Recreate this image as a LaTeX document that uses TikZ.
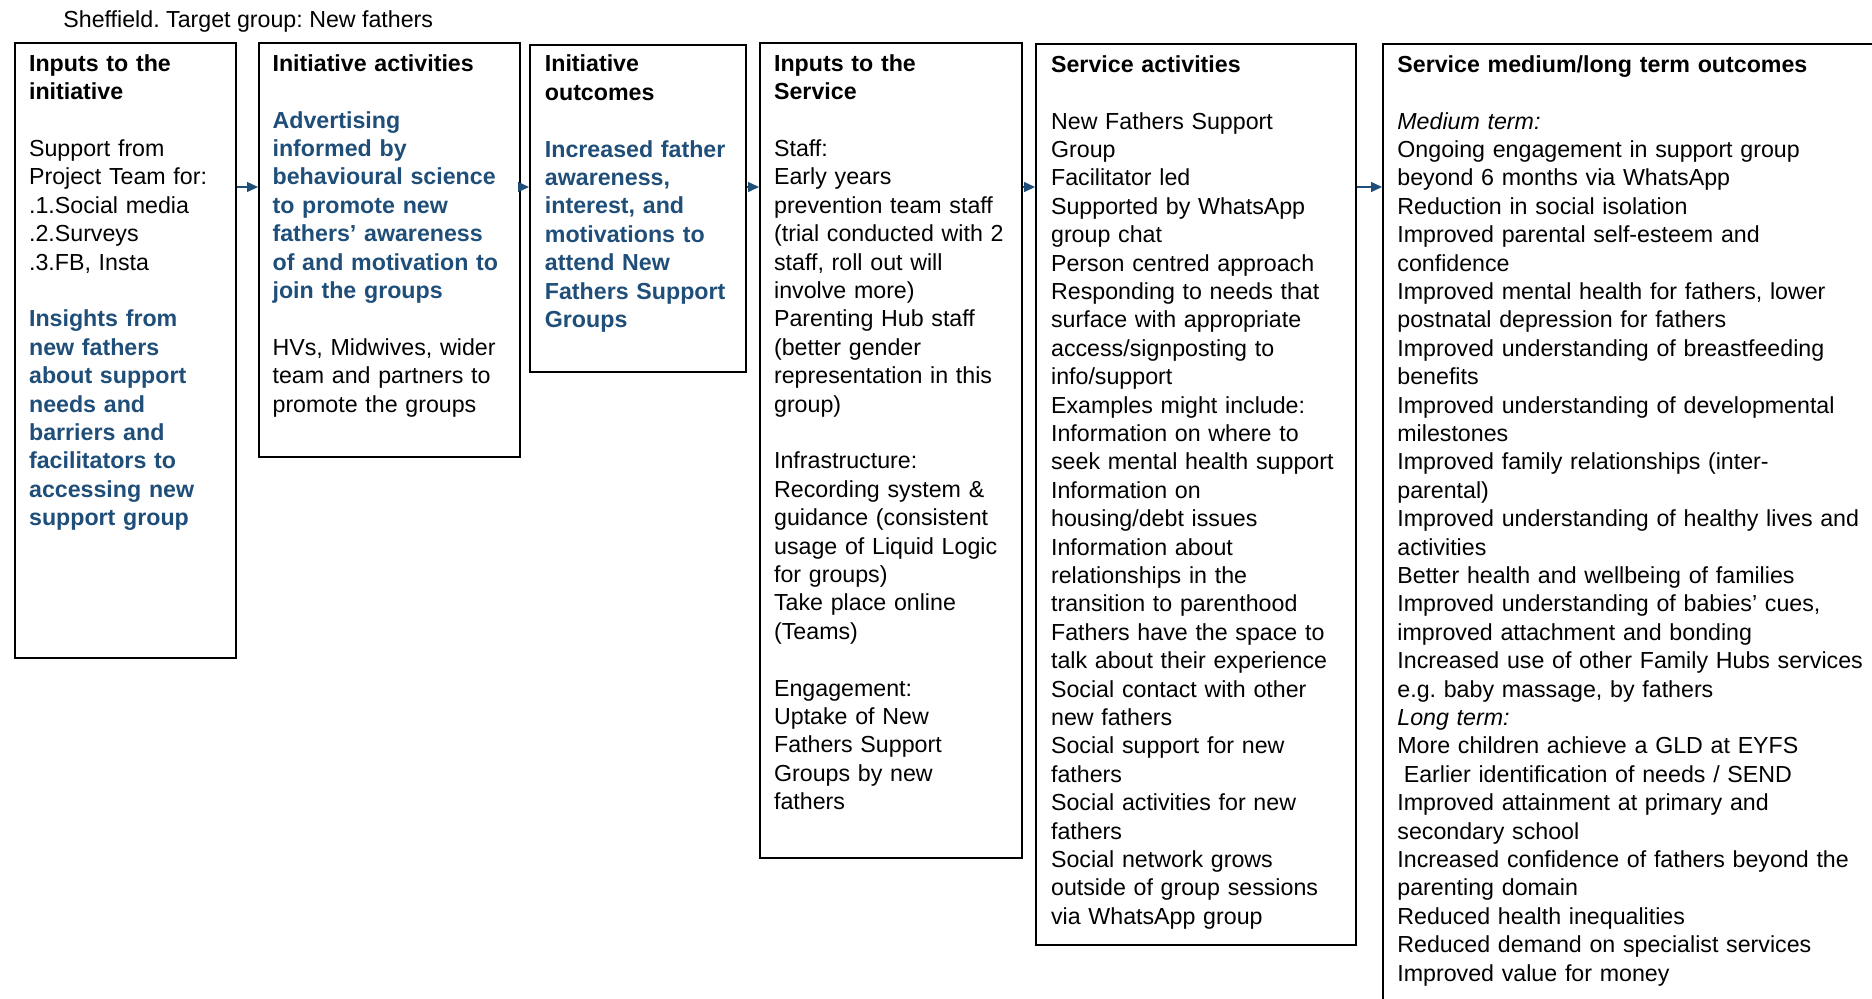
\documentclass[tikz,border=0pt]{standalone}
\usepackage{fontspec}
\setmainfont{Liberation Sans}
\usetikzlibrary{arrows.meta,calc}
\definecolor{accent}{RGB}{31,78,121}
\definecolor{arrowc}{RGB}{31,78,121}
\frenchspacing
\begin{document}
\begin{tikzpicture}[x=0.5pt,y=-0.5pt,
  box/.style={draw=black, line width=1.1pt, rectangle, inner sep=0pt, anchor=north west},
  txt/.style={anchor=north west, inner sep=0pt, align=left, text width=300pt,
    font=\fontsize{11.6pt}{14.2pt}\selectfont\frenchspacing},
  arr/.style={draw=arrowc, line width=0.7pt, -{Triangle[length=5.5pt,width=5pt]}}]
\path[use as bounding box] (0,0) rectangle (1872,998);
\clip (0,0) rectangle (1872,998);

\node[anchor=base west, inner sep=0pt, font=\fontsize{11.6pt}{14.2pt}\selectfont\frenchspacing] (title) at (63,27) {Sheffield. Target group: New fathers};

\node[box, minimum width=110.5pt, minimum height=307.5pt] (b1) at (14,42) {};
\node[box, minimum width=130.5pt, minimum height=207pt] (b2) at (258,42) {};
\node[box, minimum width=108pt, minimum height=163.5pt] (b3) at (529,44) {};
\node[box, minimum width=131pt, minimum height=407.5pt] (b4) at (759,42) {};
\node[box, minimum width=160pt, minimum height=450.5pt] (b5) at (1035,43) {};
\node[box, minimum width=270pt, minimum height=500pt] (b6) at (1382,43) {};

\node[txt] (t1) at ($(b1.north west)+(14.7,9.1)$) {\strut\bfseries Inputs to the\\initiative\\[14.2pt]
\mdseries Support from\\Project Team for:\\.1.Social media\\.2.Surveys\\.3.FB, Insta\\[14.2pt]
\color{accent}\bfseries Insights from\\new fathers\\about support\\needs and\\barriers and\\facilitators to\\accessing new\\support group};

\node[txt] (t2) at ($(b2.north west)+(14.2,9.1)$) {\strut\bfseries Initiative activities\\[14.2pt]
\color{accent}Advertising\\informed by\\behavioural science\\to promote new\\fathers’ awareness\\of and motivation to\\join the groups\\[14.2pt]
\color{black}\mdseries HVs, Midwives, wider\\team and partners to\\promote the groups};

\node[txt] (t3) at ($(b3.north west)+(15.5,7.6)$) {\strut\bfseries Initiative\\outcomes\\[14.2pt]
\color{accent}Increased father\\awareness,\\interest, and\\motivations to\\attend New\\Fathers Support\\Groups};

\node[txt] (t4) at ($(b4.north west)+(14.7,9.1)$) {\strut\bfseries Inputs to the\\Service\\[14.2pt]
\mdseries Staff:\\Early years\\prevention team staff\\(trial conducted with 2\\staff, roll out will\\involve more)\\Parenting Hub staff\\(better gender\\representation in this\\group)\\[14.2pt]
Infrastructure:\\Recording system \&\\guidance (consistent\\usage of Liquid Logic\\for groups)\\Take place online\\(Teams)\\[14.2pt]
Engagement:\\Uptake of New\\Fathers Support\\Groups by new\\fathers};

\node[txt] (t5) at ($(b5.north west)+(15.7,9.1)$) {\strut\bfseries Service activities\\[14.2pt]
\mdseries New Fathers Support\\Group\\Facilitator led\\Supported by WhatsApp\\group chat\\Person centred approach\\Responding to needs that\\surface with appropriate\\access/signposting to\\info/support\\Examples might include:\\Information on where to\\seek mental health support\\Information on\\housing/debt issues\\Information about\\relationships in the\\transition to parenthood\\Fathers have the space to\\talk about their experience\\Social contact with other\\new fathers\\Social support for new\\fathers\\Social activities for new\\fathers\\Social network grows\\outside of group sessions\\via WhatsApp group};

\node[txt] (t6) at ($(b6.north west)+(15,9.1)$) {\strut\bfseries Service medium/long term outcomes\\[14.2pt]
\mdseries\itshape Medium term:\\\upshape Ongoing engagement in support group\\beyond 6 months via WhatsApp\\Reduction in social isolation\\Improved parental self-esteem and\\confidence\\Improved mental health for fathers, lower\\postnatal depression for fathers\\Improved understanding of breastfeeding\\benefits\\Improved understanding of developmental\\milestones\\Improved family relationships (inter-\\parental)\\Improved understanding of healthy lives and\\activities\\Better health and wellbeing of families\\Improved understanding of babies’ cues,\\improved attachment and bonding\\Increased use of other Family Hubs services\\e.g. baby massage, by fathers\\
\itshape Long term:\\\upshape More children achieve a GLD at EYFS\\\hspace*{3.2pt}Earlier identification of needs / SEND\\Improved attainment at primary and\\secondary school\\Increased confidence of fathers beyond the\\parenting domain\\Reduced health inequalities\\Reduced demand on specialist services\\Improved value for money};

\coordinate (ay) at (0,187);
\draw[arr] (b1.east |- ay) -- (b2.west |- ay);
\draw[arr] (b2.east |- ay) -- (b3.west |- ay);
\draw[arr] (b3.east |- ay) -- (b4.west |- ay);
\draw[arr] (b4.east |- ay) -- (b5.west |- ay);
\draw[arr] (b5.east |- ay) -- (b6.west |- ay);
\end{tikzpicture}
\end{document}
